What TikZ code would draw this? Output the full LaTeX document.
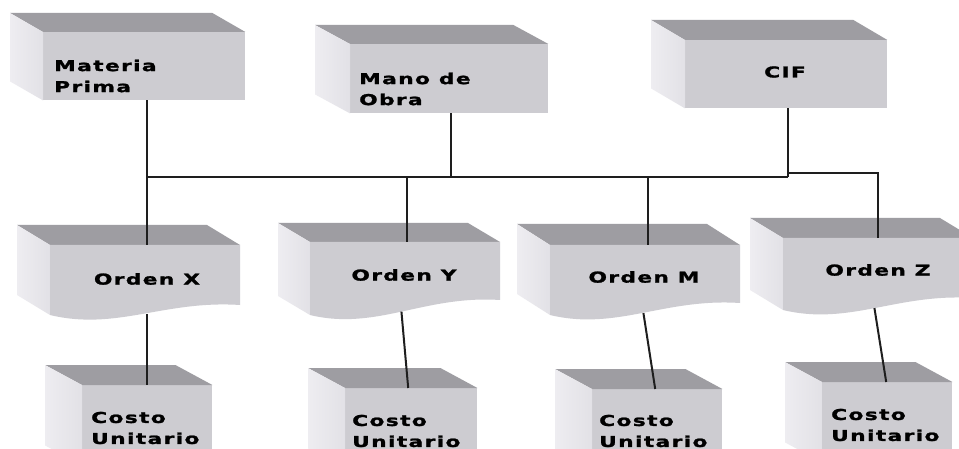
\documentclass[tikz,border=0pt]{standalone}
\usepackage{fontspec}
\newfontfamily\lab[FakeStretch=1.45,LetterSpace=9,BoldFont={DejaVu Sans Bold},BoldFeatures={FakeBold=1.5}]{DejaVu Sans}
\usetikzlibrary{calc}

\definecolor{topc}{HTML}{9E9DA2}
\definecolor{frontc}{HTML}{CDCCD1}
\definecolor{sidec}{HTML}{E2E1E6}
\definecolor{sidel}{HTML}{EEEDF1}
\definecolor{wire}{HTML}{1E1E1E}

\tikzset{
  front/.style={anchor=north west, fill=frontc, draw=none, inner sep=0pt},
  lbl/.style={font=\lab\bfseries\fontsize{15pt}{21pt}\selectfont, text=black, inner sep=0pt, align=left},
  wire/.style={draw=wire, line width=2pt},
}

% top and left faces of a box whose front face is node #1, depth (#2,#3)
\newcommand\boxsides[3]{%
  \fill[topc] (#1.north west) -- ++(-#2,-#3) -- ($(#1.north east)+(-#2,-#3)$) -- (#1.north east) -- cycle;
  \shade[left color=sidel, right color=sidec] (#1.north west) -- ++(-#2,-#3) -- ($(#1.south west)+(-#2,-#3)$) -- (#1.south west) -- cycle;
}

% document box with wavy bottom: #1 name, #2 x, #3 top, #4 width, #5 left bottom, #6 right bottom, #7/#8 depth
\newcommand\docbox[8]{%
  \fill[topc] (#2,#3) -- ++(-#7,-#8) -- ++(#4,0) -- ++(#7,#8) -- cycle;
  \shade[left color=sidel, right color=sidec] (#2,#3) -- ++(-#7,-#8) -- ($(#2,#5)+(-#7,-#8)$) -- (#2,#5) -- cycle;
  \fill[frontc] (#2,#3) -- (#2,#5)
     .. controls ($(#2,#5)+(0.35*#4,16)$) and ($(#2+#4,#6)+(-0.4*#4,-5)$) .. coordinate[pos=0.5] (#1-bot) (#2+#4,#6)
     -- (#2+#4,#3) -- cycle;
  \coordinate (#1-top) at ($(#2,#3)+(0.5*#4,0)$);
}

\begin{document}
\begin{tikzpicture}[x=1pt, y=-1pt]
\useasboundingbox (0,0) rectangle (959,449);
\clip (0,0) rectangle (959,449);
\fill[white] (0,0) rectangle (959,449);

% cost elements
\node[front, minimum width=202pt, minimum height=68pt] (mp) at (43,32) {};
\boxsides{mp}{33}{19}
\node[lbl, anchor=west] (mpt) at (54,76) {Materia\\Prima};

\node[front, minimum width=198pt, minimum height=69pt] (mo) at (350,44) {};
\boxsides{mo}{35}{19}
\node[lbl, anchor=west] (mot) at (359,89) {Mano de\\Obra};

\node[front, minimum width=202pt, minimum height=68pt] (cif) at (685,40) {};
\boxsides{cif}{34}{20}
\node[lbl] (cift) at (785,72) {CIF};

% orders
\docbox{ox}{50}{245}{190}{315}{305}{33}{20}
\node[lbl] (oxt) at (147,279) {Orden X};
\docbox{oy}{310}{242}{190}{315}{300}{32}{19}
\node[lbl] (oyt) at (404,275) {Orden Y};
\docbox{om}{550}{245}{190}{315}{303}{33}{21}
\node[lbl] (omt) at (644,277) {Orden M};
\docbox{oz}{783}{238}{190}{310}{298}{33}{20}
\node[lbl] (ozt) at (878,270) {Orden Z};

% unit costs
\node[front, minimum width=130pt, minimum height=80pt] (c1) at (82,385) {};
\boxsides{c1}{37}{20}
\node[lbl, anchor=west] (c1t) at (91,428) {Costo\\Unitario};
\node[front, minimum width=132pt, minimum height=80pt] (c2) at (345,388) {};
\boxsides{c2}{37}{20}
\node[lbl, anchor=west] (c2t) at (352,431) {Costo\\Unitario};
\node[front, minimum width=130pt, minimum height=80pt] (c3) at (592,389) {};
\boxsides{c3}{37}{20}
\node[lbl, anchor=west] (c3t) at (599,431) {Costo\\Unitario};
\node[front, minimum width=130pt, minimum height=80pt] (c4) at (822,382) {};
\boxsides{c4}{37}{20}
\node[lbl, anchor=west] (c4t) at (831,425) {Costo\\Unitario};

% distribution bus
\coordinate (jx) at (147,177);
\coordinate (jmo) at (451,177);
\coordinate (jy) at (407,177);
\coordinate (jm) at (648,177);
\coordinate (jc) at (788,177);
\coordinate (jc2) at (788,173);
\coordinate (jz) at (878,173);

\draw[wire] (jx) -- (jc);
\draw[wire] (mp.south -| jx) -- (jx) -- (ox-top -| jx);
\draw[wire] (mo.south -| jmo) -- (jmo);
\draw[wire] (cif.south -| jc) -- (jc);
\draw[wire] (jc2) -- (jz) -- (oz-top -| jz);
\draw[wire] (jy) -- (oy-top -| jy);
\draw[wire] (jm) -- (om-top -| jm);

% orders to unit costs
\draw[wire] (ox-bot -| jx) -- (c1.north -| jx);
\draw[wire] (oy-bot) -- ($(c2.north)+(-3,0)$);
\draw[wire] ($(om-bot)+(2,0)$) -- ($(c3.north)+(-2,0)$);
\draw[wire] (oz-bot) -- ($(c4.north)+(-1,0)$);
\end{tikzpicture}
\end{document}
